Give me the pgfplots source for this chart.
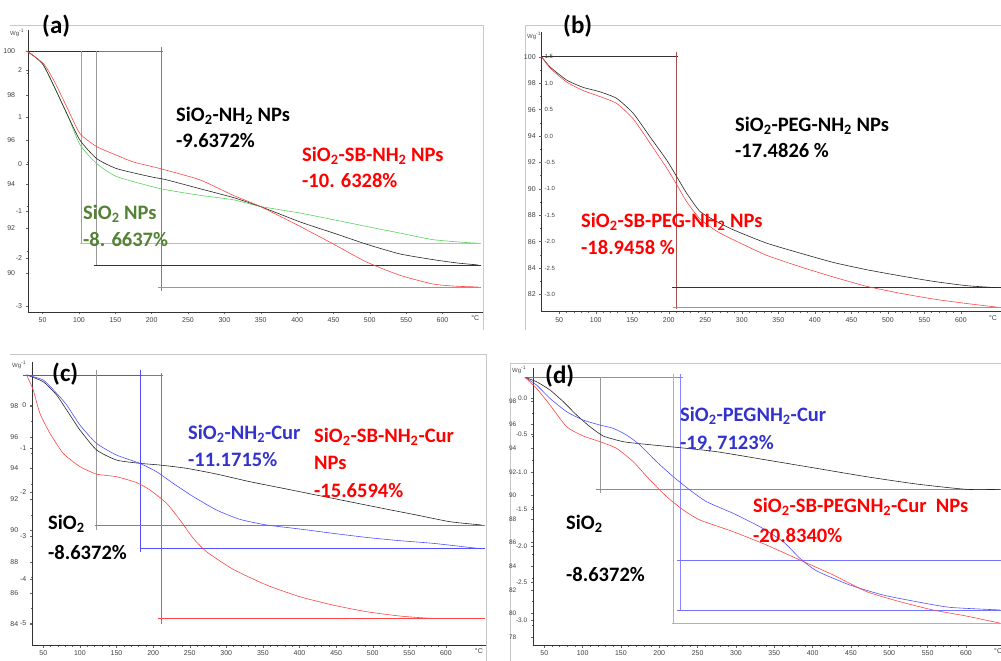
\documentclass[border=0pt]{standalone}
\usepackage{fontspec}
\setmainfont{Carlito}
\newfontfamily\tickf{Liberation Sans}
\usepackage{pgfplots}
\pgfplotsset{compat=1.18}

\definecolor{cRed}{RGB}{255,0,0}
\definecolor{cBlue}{RGB}{51,51,204}
\definecolor{cGreen}{RGB}{84,130,53}
\definecolor{lRed}{RGB}{255,70,70}
\definecolor{lGreen}{RGB}{90,210,90}
\definecolor{lBlue}{RGB}{80,80,255}
\definecolor{dRed}{RGB}{170,80,80}
\definecolor{frameGray}{RGB}{200,200,200}

\pgfplotsset{
  tga/.style={
    scale only axis, anchor=south west, clip=false,
    axis x line*=bottom, axis y line*=left,
    axis line style={black!80, line width=0.7pt, -},
    tick align=outside,
    major tick length=2.5pt, minor tick length=1.5pt,
    every tick/.style={black!60, line width=0.4pt},
    xtick={50,100,...,600}, minor x tick num=4, minor y tick num=1,
    tick label style={font=\tickf\fontsize{7}{8}\selectfont, text=black!75},
    /pgf/number format/assume math mode=true,
    extra x tick style={major tick length=0pt},
    every axis plot/.append style={line width=0.6pt, no markers},
  },
  curve/.style={smooth, tension=0.35},
  guide/.style={line width=0.8pt, forget plot},
}

\newcommand{\Si}{SiO\textsubscript{2}}
\newcommand{\NH}{NH\textsubscript{2}}
\newcommand{\lab}[4]{\node[anchor=north west,inner sep=0pt,text=#3,
  font=\bfseries\fontsize{20.5}{24}\selectfont] at (#1pt,661pt-#2pt) {#4};}
\newcommand{\panel}[3]{\node[anchor=north west,inner sep=0pt,
  font=\bfseries\fontsize{25}{28}\selectfont] at (#1pt,661pt-#2pt) {#3};}
\newcommand{\wg}[2]{\node[anchor=west,inner sep=0pt,text=black!70,
  font=\tickf\fontsize{6}{7}\selectfont] at (#1pt,661pt-#2pt) {Wg\textsuperscript{-1}};}

\begin{document}
\begin{tikzpicture}
\useasboundingbox (0,0) rectangle (1001pt,661pt);

% panel borders
\draw[frameGray, line width=0.8pt] (10pt,636pt) -- (483pt,636pt) -- (483pt,331pt);
\draw[frameGray, line width=0.8pt] (525pt,331pt) -- (525pt,636pt) -- (1001pt,636pt);
\draw[frameGray, line width=0.8pt] (10pt,307pt) -- (486pt,307pt) -- (486pt,0pt);
\draw[frameGray, line width=0.8pt] (510pt,0pt) -- (510pt,298pt) -- (1001pt,298pt);

% ---------------- (a) ----------------
\begin{axis}[tga, at={(28.1pt,349pt)}, width=454.9pt, height=282pt,
  xmin=30, xmax=655.7, ymin=88.24, ymax=100.95,
  ytick={90,92,...,100},
  yticklabel style={xshift=-7pt},
  extra y ticks={99.14,97.03,94.91,92.79,90.68,88.51},
  extra y tick labels={2,1,0,-1,-2,-3},
  extra y tick style={yticklabel style={xshift=7pt}},
  extra x ticks={645}, extra x tick labels={°C}]
\addplot[guide, black!80] coordinates {(28,100) (127,100)};
\addplot[guide, lRed] coordinates {(127,100) (216,100)};
\addplot[guide, lGreen] coordinates {(103.5,100) (103.5,91.34)};
\addplot[guide, black!40] coordinates {(124,100) (124,90.3)};
\addplot[guide, lRed] coordinates {(212.7,100.2) (212.7,89.2)};
\addplot[guide, lGreen!70] coordinates {(101,91.34) (653,91.34)};
\addplot[guide, black!80] coordinates {(120,90.36) (653,90.36)};
\addplot[guide, lRed!80] coordinates {(209,89.37) (653,89.37)};
\addplot[curve, lGreen] table {
T W
28 100
51 99.37
83 97.2
101 95.8
124 94.94
152 94.34
212 93.8
266 93.5
312 93.3
349 93.0
404 92.7
450 92.4
495 92.1
541 91.8
587 91.5
633 91.37
649 91.34
};
\addplot[curve, black!85] table {
T W
28 100
51 99.37
83 97.2
101 96.0
124 95.16
152 94.7
198 94.34
220 94.2
266 93.8
312 93.4
349 93.0
404 92.3
450 91.8
495 91.3
541 90.86
587 90.6
620 90.45
649 90.36
};
\addplot[curve, lRed] table {
T W
28 100
51 99.44
65 98.7
83 97.5
101 96.3
124 95.7
152 95.3
175 95.0
212 94.7
266 94.2
312 93.5
349 93.0
404 92.1
450 91.3
495 90.5
541 89.9
587 89.5
620 89.4
649 89.37
};
\end{axis}

% ---------------- (b) ----------------
\begin{axis}[tga, at={(541.7pt,349.3pt)}, width=459.2pt, height=280pt,
  xmin=26, xmax=654.8, ymin=80.70, ymax=101.9,
  ytick={82,84,...,100},
  extra y ticks={100,98,96,94,92,90,88,86,84,82},
  extra y tick labels={1.5,1.0,0.5,0.0,-0.5,-1.0,-1.5,-2.0,-2.5,-3.0},
  extra y tick style={yticklabel style={anchor=west, xshift=2pt,
    font=\tickf\fontsize{6}{7}\selectfont}},
  extra x ticks={644}, extra x tick labels={°C}]
\addplot[guide, black!80] coordinates {(26,100) (213,100)};
\addplot[guide, dRed] coordinates {(210,100.4) (210,80.9)};
\addplot[guide, black!80] coordinates {(204,82.52) (655,82.52)};
\addplot[guide, lRed!80] coordinates {(206,81.05) (655,81.05)};
\addplot[curve, black!85] table {
T W
25.9 100
37.3 99.24
60.1 98.24
82.9 97.68
105.7 97.35
128.6 96.85
151.3 95.72
174.2 93.95
197 92.19
210.8 90.93
224.5 89.67
242.7 88.29
265.5 87.53
288.3 86.90
334 85.89
379.6 85.14
425.2 84.43
470.9 83.88
516.5 83.42
562 83.00
607.8 82.67
648.8 82.52
};
\addplot[curve, lRed] table {
T W
25.9 100
37.3 99.16
60.1 98.09
82.9 97.44
105.7 96.99
128.6 96.47
151.3 95.30
174.2 93.47
197 91.59
210.8 90.33
224.5 89.03
242.7 87.72
265.5 86.80
288.3 86.15
334 84.97
379.6 84.11
425.2 83.33
470.9 82.62
516.5 82.10
562 81.66
607.8 81.32
648.8 81.05
};
\end{axis}

% ---------------- (c) ----------------
\begin{axis}[tga, at={(32.3pt,16pt)}, width=453.6pt, height=283.3pt,
  xmin=35, xmax=654.6, ymin=82.65, ymax=100.85,
  ytick={84,86,...,98},
  yticklabel style={xshift=-8pt},
  extra y ticks={98.07,95.28,92.46,89.67,86.87,84.08},
  extra y tick labels={0,-1,-2,-3,-4,-5},
  extra y tick style={yticklabel style={xshift=8pt}},
  extra x ticks={645}, extra x tick labels={°C}]
\addplot[guide, lBlue] coordinates {(22.7,100) (184.3,100)};
\addplot[guide, lRed] coordinates {(184.3,100) (213.9,100)};
\addplot[guide, black!40] coordinates {(122.8,100.3) (122.8,90.03)};
\addplot[guide, lBlue] coordinates {(183,100.3) (183,88.6)};
\addplot[guide, lRed] coordinates {(210.7,100.1) (210.7,84.0)};
\addplot[guide, black!50] coordinates {(120.6,90.36) (654,90.36)};
\addplot[guide, lBlue] coordinates {(182,88.83) (654,88.83)};
\addplot[guide, lRed] coordinates {(207,84.34) (654,84.34)};
\addplot[curve, black!85] table {
T W
27.2 100
50 99.56
68.2 98.71
81.9 97.75
100.1 96.46
122.8 95.18
150.2 94.53
182 94.32
209.4 94.21
245.8 94.00
286.8 93.63
332.3 93.14
378.2 92.71
423.4 92.28
468.9 91.85
514.4 91.42
560 91.00
605.5 90.57
648.7 90.36
};
\addplot[curve, lBlue] table {
T W
27.2 100
50 99.67
68.2 98.82
81.9 98.07
100.1 96.78
122.8 95.60
150.2 94.85
182 94.32
204.8 93.78
227.6 93.03
254.9 92.18
286.8 91.32
318.6 90.72
355.1 90.36
400.6 90.10
446.1 89.82
491.7 89.56
537.2 89.35
582.7 89.18
648.7 88.83
};
\addplot[curve, lRed] table {
T W
27.2 100
36.3 99.03
45.4 97.53
59.1 96.25
77.3 94.96
100.1 94.11
122.8 93.63
150.2 93.46
177.5 93.08
195.7 92.61
218.5 91.75
236.7 90.68
254.9 89.50
273.1 88.64
309.5 87.51
355.1 86.50
400.6 85.75
446.1 85.21
491.7 84.79
537.2 84.51
582.7 84.36
648.7 84.34
};
\end{axis}

% ---------------- (d) ----------------
\begin{axis}[tga, at={(533.3pt,16pt)}, width=467.7pt, height=276.7pt,
  xmin=35.7, xmax=645.7, ymin=77.32, ymax=100.77,
  ytick={78,80,...,98},
  yticklabel style={xshift=-11pt, font=\tickf\fontsize{6.5}{7}\selectfont},
  extra y ticks={98.22,95.17,92.0,88.84,85.71,82.6,79.43},
  extra y tick labels={0.0,-0.5,-1.0,-1.5,-2.0,-2.5,-3.0},
  extra y tick style={yticklabel style={xshift=11pt}},
  extra x ticks={642}, extra x tick labels={°C}]
\addplot[guide, black!50] coordinates {(24.8,100) (122.7,100)};
\addplot[guide, lBlue!70] coordinates {(122.7,100) (230.6,100)};
\addplot[guide, black!40] coordinates {(122.7,100) (122.7,90.2)};
\addplot[guide, lRed!60] coordinates {(218.3,100.3) (218.3,79.17)};
\addplot[guide, lBlue!70] coordinates {(227,100.3) (227,80.29)};
\addplot[guide, black!45] coordinates {(118,90.51) (646,90.51)};
\addplot[guide, lBlue!80] coordinates {(222.7,84.46) (646,84.46)};
\addplot[guide, lBlue!80] coordinates {(222.7,80.29) (646,80.29)};
\addplot[guide, lRed!60] coordinates {(216,79.17) (646,79.17)};
\addplot[curve, black!85] table {
T W
24.8 100
40 99.63
57.4 98.93
74.8 97.94
92.2 96.81
109.6 95.82
127 95.03
153.1 94.55
179.2 94.35
222.7 94.07
274.8 93.70
340 93.0
405.3 92.29
470.5 91.58
535.7 90.96
600.9 90.51
644.4 90.51
};
\addplot[curve, lBlue] table {
T W
24.8 100
40 99.35
57.4 98.22
79.2 97.09
100.9 96.38
122.7 95.96
140 95.68
157.4 95.11
174.8 94.27
196.6 92.85
218.3 91.58
240 90.45
261.8 89.46
296.6 88.47
331.3 87.34
361.8 86.07
383.5 84.66
405.3 83.60
448.7 82.40
492.2 81.55
535.7 80.99
579.2 80.51
644.4 80.29
};
\addplot[curve, lRed] table {
T W
24.8 100
40 99.07
57.4 97.66
79.2 95.82
100.9 95.03
122.7 94.55
144.4 93.98
166.1 92.85
187.9 91.30
209.6 89.89
231.3 88.76
253.1 87.91
296.6 86.92
340 85.79
383.5 84.52
427 83.25
470.5 81.84
514 80.99
557.5 80.28
600.9 79.77
644.4 79.17
};
\end{axis}

% y-axis unit labels
\wg{10}{33}
\wg{527}{36}
\wg{12}{365}
\wg{512}{370}

% panel letters
\panel{42}{15}{(a)}
\panel{563}{15}{(b)}
\panel{52}{363}{(c)}
\panel{545}{365}{(d)}

% annotations (a)
\lab{176}{107}{black}{\Si-\NH{} NPs}
\lab{176}{133}{black}{-9.6372\%}
\lab{302}{147}{cRed}{\Si-SB-\NH{} NPs}
\lab{302}{173}{cRed}{-10. 6328\%}
\lab{83}{205}{cGreen}{\Si{} NPs}
\lab{83}{232}{cGreen}{-8. 6637\%}
% annotations (b)
\lab{735}{117}{black}{\Si-PEG-\NH{} NPs}
\lab{735}{143}{black}{-17.4826 \%}
\lab{581}{213}{cRed}{\Si-SB-PEG-\NH{} NPs}
\lab{581}{240}{cRed}{-18.9458 \%}
% annotations (c)
\lab{188}{425}{cBlue}{\Si-\NH-Cur}
\lab{188}{452}{cBlue}{-11.1715\%}
\lab{314}{428}{cRed}{\Si-SB-\NH-Cur}
\lab{314}{456}{cRed}{NPs}
\lab{314}{483}{cRed}{-15.6594\%}
\lab{48}{515}{black}{\Si}
\lab{48}{545}{black}{-8.6372\%}
% annotations (d)
\lab{680}{407}{cBlue}{\Si-PEGNH\textsubscript{2}-Cur}
\lab{680}{435}{cBlue}{-19, 7123\%}
\lab{753}{498}{cRed}{\Si-SB-PEGNH\textsubscript{2}-Cur\ \ NPs}
\lab{753}{528}{cRed}{-20.8340\%}
\lab{566}{515}{black}{\Si}
\lab{566}{567}{black}{-8.6372\%}
\end{tikzpicture}
\end{document}
